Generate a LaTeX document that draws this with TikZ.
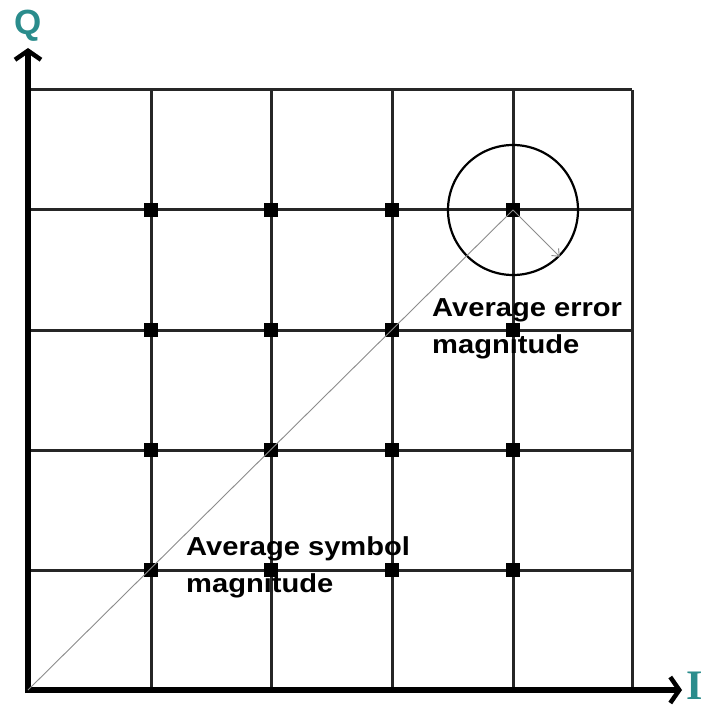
\documentclass[tikz,border=0pt]{standalone}
\usepackage{fontspec}
\setmainfont{Liberation Sans}
\newfontfamily\lblfont[FakeStretch=1.12]{Liberation Sans}
\newfontfamily\serifbold{Liberation Serif}
\usetikzlibrary{arrows.meta}
\definecolor{axteal}{HTML}{2A8C8C}
\tikzset{
  gridline/.style={draw=black!85, line width=3pt},
  axisline/.style={draw=black, line width=6.5pt, -{Straight Barb[length=9pt,width=26pt,line width=4.5pt]}},
  dotmark/.style={fill=black, minimum size=14pt, inner sep=0pt, rectangle},
  thinline/.style={draw=black!45, line width=0.9pt},
  lbl/.style={font=\lblfont\bfseries\fontsize{26}{37}\selectfont, inner sep=0pt, anchor=base west},
  axlbl/.style={text=axteal, inner sep=0pt}
}
\begin{document}
\begin{tikzpicture}[x=1pt,y=-1pt]
\useasboundingbox (0,0) rectangle (707,708);
\fill[white] (0,0) rectangle (707,708);
% grid
\foreach \x [count=\i] in {151,271,392,513,632} {
  \coordinate (vt\i) at (\x,90);
  \coordinate (vb\i) at (\x,690);
  \draw[gridline] (vt\i) -- (vb\i);
}
\foreach \y [count=\j] in {90,210,330,450,570} {
  \coordinate (hl\j) at (30,\y);
  \coordinate (hr\j) at (632,\y);
  \draw[gridline] (hl\j) -- (hr\j);
}
% axes
\coordinate (origin) at (28,690);
\coordinate (qtop) at (28,48);
\coordinate (iend) at (682,690);
\coordinate (qbot) at (28,693);
\coordinate (ileft) at (25,690);
\draw[axisline] (qbot) -- (qtop);
\draw[axisline] (ileft) -- (iend);
\node[axlbl, font=\bfseries\fontsize{35}{35}\selectfont] (qlab) at (28,26) {Q};
\node[axlbl, font=\serifbold\bfseries\fontsize{42}{42}\selectfont, anchor=west] (ilab) at (686,686) {I};
% dots
\foreach \x [count=\i] in {151,271,392,513} {
  \foreach \y [count=\j] in {210,330,450,570} {
    \node[dotmark] (p\i\j) at (\x,\y) {};
  }
}
% error circle
\node[draw=black, line width=2.2pt, circle, minimum size=130pt, inner sep=0pt] (err) at (513,210) {};
% diagonal and error arrow
\draw[thinline] (origin) -- (p41.center);
\draw[thinline, -{Straight Barb[length=6pt,width=10pt]}] (p41.center) -- (err.-45);
% labels
\node[lbl] (errlab1) at (432,316) {Average error};
\node[lbl] (errlab2) at (432,353) {magnitude};
\node[lbl] (symlab1) at (186,555) {Average symbol};
\node[lbl] (symlab2) at (186,592) {magnitude};
\end{tikzpicture}
\end{document}
